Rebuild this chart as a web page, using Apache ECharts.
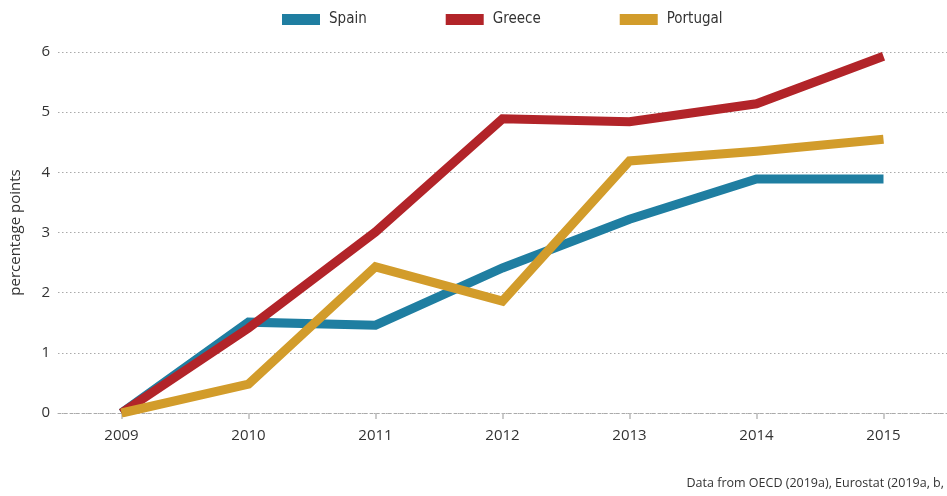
<!DOCTYPE html>
<html>
<head>
<meta charset="utf-8">
<script src="https://cdn.jsdelivr.net/npm/echarts@6/dist/echarts.min.js"></script>
<style>
  html, body { margin: 0; padding: 0; background: #fff; }
  #chart { width: 947px; height: 496px; }
</style>
</head>
<body>
<div id="chart"></div>
<script>
// years on the x axis
const years = ["2009", "2010", "2011", "2012", "2013", "2014", "2015"];
// change since 2009, percentage points
const spain = [0, 1.51, 1.46, 2.41, 3.22, 3.89, 3.89];
const greece = [0, 1.41, 3.01, 4.89, 4.84, 5.14, 5.93];
const portugal = [0, 0.48, 2.43, 1.86, 4.19, 4.35, 4.55];
const yTicks = [0, 1, 2, 3, 4, 5, 6];

const labelFont = "'Open Sans', 'DejaVu Sans', sans-serif";
const legendFont = "'Liberation Sans Narrow', 'DejaVu Sans Condensed', 'Roboto', sans-serif";

const myChart = echarts.init(document.getElementById("chart"));

function lineSeries(name, data, color) {
  return {
    name: name,
    type: "line",
    data: data,
    symbol: "none",
    animation: false,
    lineStyle: { width: 9, color: color, join: "miter", cap: "butt" },
    itemStyle: { color: color },
  };
}

let option = {
  backgroundColor: "#fff",
  legend: {
    top: 7,
    left: 277,
    itemWidth: 38,
    itemHeight: 11,
    itemGap: 79,
    icon: "rect",
    textStyle: { fontFamily: legendFont, fontSize: 15, color: "#333", padding: [0, 0, 0, 4] },
    data: ["Spain", "Greece", "Portugal"],
  },
  grid: {
    left: 58,
    right: 0,
    top: 52,
    bottom: 83,
    containLabel: false,
  },
  xAxis: {
    type: "category",
    data: years,
    boundaryGap: true,
    axisLine: { show: true, lineStyle: { color: "#aaa", type: [3, 3], width: 1 } },
    axisTick: { show: true, alignWithLabel: true, length: 6, lineStyle: { color: "#bbb", width: 1.5 } },
    axisLabel: { fontFamily: labelFont, fontSize: 15, color: "#333", margin: 15 },
  },
  yAxis: {
    type: "value",
    min: yTicks[0],
    max: yTicks[yTicks.length - 1],
    interval: 1,
    name: "percentage points",
    nameLocation: "middle",
    nameGap: 35,
    nameTextStyle: { fontFamily: labelFont, fontSize: 15, color: "#333" },
    axisLine: { show: false },
    axisTick: { show: false },
    axisLabel: { fontFamily: labelFont, fontSize: 15, color: "#333", margin: 8 },
    splitLine: {
      show: true,
      lineStyle: { color: "#aaa", type: [1.5, 2.5], width: 1 },
    },
  },
  graphic: [
    {
      type: "text",
      right: 3,
      bottom: 6,
      style: {
        text: "Data from OECD (2019a), Eurostat (2019a, b,",
        font: "12.5px " + labelFont,
        fill: "#333",
      },
    },
  ],
  series: [
    lineSeries("Spain", spain, "#1f7ea1"),
    lineSeries("Greece", greece, "#b22429"),
    lineSeries("Portugal", portugal, "#d29c2b"),
  ],
};

myChart.setOption(option);
</script>
</body>
</html>
